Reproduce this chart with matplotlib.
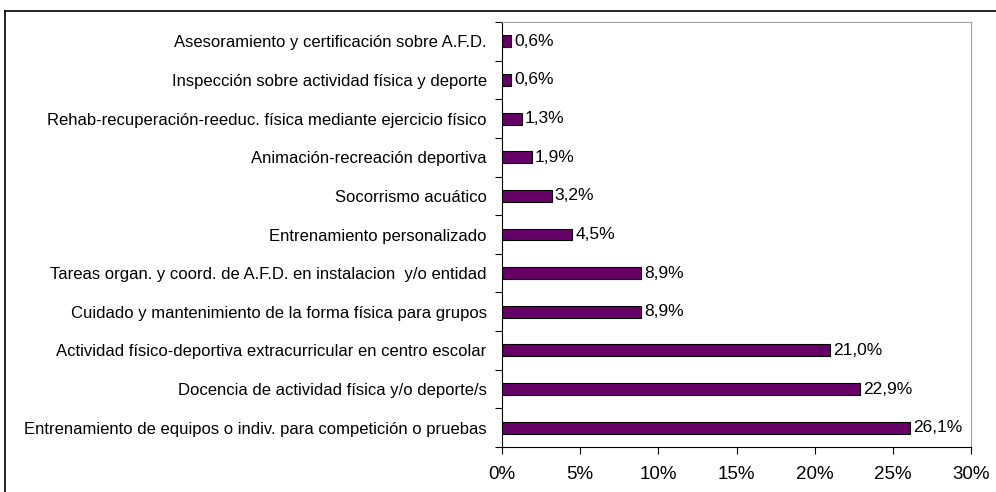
import matplotlib.pyplot as plt
from matplotlib.lines import Line2D
from matplotlib.ticker import FuncFormatter, MultipleLocator

plt.rcParams['font.family'] = ['Liberation Sans', 'DejaVu Sans']

# categories, bottom to top
categorias = [
    "Entrenamiento de equipos o indiv. para competición o pruebas",
    "Docencia de actividad física y/o deporte/s",
    "Actividad físico-deportiva extracurricular en centro escolar",
    "Cuidado y mantenimiento de la forma física para grupos",
    "Tareas organ. y coord. de A.F.D. en instalacion  y/o entidad",
    "Entrenamiento personalizado",
    "Socorrismo acuático",
    "Animación-recreación deportiva",
    "Rehab-recuperación-reeduc. física mediante ejercicio físico",
    "Inspección sobre actividad física y deporte",
    "Asesoramiento y certificación sobre A.F.D.",
]
porcentajes = [26.1, 22.9, 21.0, 8.9, 8.9, 4.5, 3.2, 1.9, 1.3, 0.6, 0.6]

fig = plt.figure(figsize=(9.96, 4.92), dpi=100)
ax = fig.add_axes([502 / 996, 1 - 447 / 492, 469 / 996, 425 / 492])

pos = range(len(categorias))
ax.barh(pos, porcentajes, height=0.31, color='#660066', edgecolor='black', linewidth=0.8)

for y, v in zip(pos, porcentajes):
    ax.annotate(f"{v:.1f}%".replace('.', ','), (v, y), xytext=(2, 0),
                textcoords='offset points', va='center', ha='left', fontsize=12.5)

ax.set_xlim(0, 30)
ax.set_ylim(-0.5, len(categorias) - 0.5)
ax.xaxis.set_major_locator(MultipleLocator(5))
ax.xaxis.set_major_formatter(FuncFormatter(lambda x, p: f"{x:.0f}%"))
ax.tick_params(axis='x', labelsize=13.5, length=5, direction='out', pad=9)

# y tick marks sit between categories, labels at the bar centres
ax.set_yticks([p + 0.5 for p in range(-1, len(categorias))])
ax.set_yticklabels([])
ax.set_yticks(list(pos), minor=True)
ax.set_yticklabels(categorias, minor=True, fontsize=12)
ax.tick_params(axis='y', which='major', length=5, direction='out')
ax.tick_params(axis='y', which='minor', length=0, pad=11)

for s in ['top', 'right']:
    ax.spines[s].set_color('#a0a0a0')
for s in ['left', 'bottom']:
    ax.spines[s].set_color('black')

# outer chart frame (partially cut off in the original)
fig.add_artist(Line2D([4.5 / 996, 4.5 / 996], [0, 1 - 10.5 / 492], color='black', lw=1.2))
fig.add_artist(Line2D([4.5 / 996, 1], [1 - 10.5 / 492, 1 - 10.5 / 492], color='black', lw=1.2))

fig.savefig('out.png', dpi=100)
